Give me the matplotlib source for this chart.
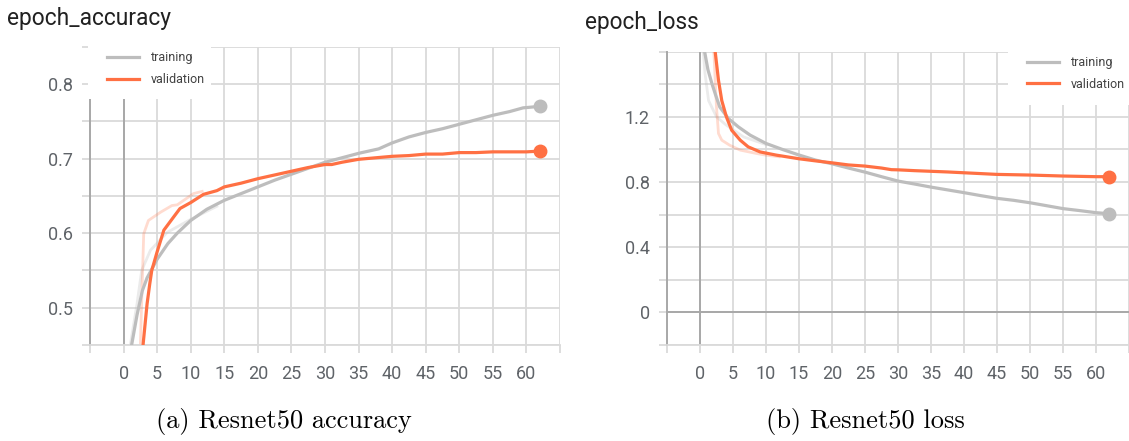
import matplotlib
matplotlib.use("Agg")
import matplotlib.pyplot as plt
from matplotlib.patches import Rectangle
import numpy as np

# ---- data ----
acc_train_x = [1.2, 2.0, 2.8, 3.5, 5, 6.6, 8, 10, 12.4, 15, 17.5, 20, 22.5, 25, 27.5, 30,
               32.5, 35, 38, 40, 42.5, 45, 47.5, 50, 52.5, 55, 57.5, 59.5, 62]
acc_train_y = [0.45, 0.49, 0.523, 0.540, 0.565, 0.586, 0.600, 0.617, 0.632, 0.644, 0.653,
               0.662, 0.671, 0.679, 0.687, 0.695, 0.701, 0.707, 0.713, 0.721, 0.729, 0.735,
               0.740, 0.746, 0.752, 0.758, 0.763, 0.768, 0.770]
acc_val_x = [2.9, 3.5, 3.9, 4.2, 5, 6, 7.4, 8.4, 10, 11.9, 13.9, 15, 17.5, 20, 22.5, 25,
             27.5, 30, 31, 32.5, 35, 37.5, 40, 42.5, 45, 47.5, 50, 52.5, 55, 57.5, 60, 62]
acc_val_y = [0.45, 0.505, 0.532, 0.55, 0.575, 0.604, 0.621, 0.633, 0.641, 0.652, 0.657,
             0.662, 0.667, 0.673, 0.678, 0.683, 0.688, 0.692, 0.692, 0.695, 0.699, 0.701,
             0.703, 0.704, 0.706, 0.706, 0.708, 0.708, 0.709, 0.709, 0.709, 0.710]
acc_train_raw_x = [1.0, 2.0, 2.7, 4.0, 6.5, 9.9, 13.9]
acc_train_raw_y = [0.45, 0.505, 0.55, 0.577, 0.601, 0.618, 0.636]
acc_val_raw_x = [2.5, 3.0, 3.7, 5.5, 7.2, 8.0, 10.4, 11.7]
acc_val_raw_y = [0.45, 0.599, 0.617, 0.628, 0.637, 0.638, 0.653, 0.656]

loss_train_x = [0.7, 1.2, 1.8, 2.4, 3.0, 4.3, 5.8, 7.6, 10, 12.5, 15, 17.5, 20, 22.5, 25,
                27.5, 30, 32.5, 35, 37.5, 40, 42.5, 45, 47.5, 50, 52.5, 55, 57.5, 60, 62]
loss_train_y = [1.60, 1.49, 1.405, 1.33, 1.26, 1.19, 1.139, 1.088, 1.037, 1.000, 0.966,
                0.935, 0.912, 0.886, 0.861, 0.833, 0.806, 0.788, 0.769, 0.752, 0.735,
                0.717, 0.700, 0.688, 0.673, 0.655, 0.637, 0.625, 0.612, 0.606]
loss_val_x = [2.3, 2.8, 3.3, 4.0, 4.8, 6.1, 7.3, 9.1, 11.6, 15, 17.5, 20, 22.5, 25, 27.5,
              29, 30, 32.5, 35, 37.5, 40, 42.5, 45, 47.5, 50, 52.5, 55, 57.5, 60, 62]
loss_val_y = [1.60, 1.425, 1.30, 1.20, 1.118, 1.057, 1.016, 0.985, 0.965, 0.943, 0.930,
              0.918, 0.905, 0.898, 0.886, 0.876, 0.875, 0.870, 0.866, 0.862, 0.857, 0.852,
              0.847, 0.845, 0.843, 0.840, 0.837, 0.835, 0.833, 0.833]
loss_train_raw_x = [0.5, 0.76, 1.3, 2.5, 4.0, 6.6, 10]
loss_train_raw_y = [1.60, 1.466, 1.30, 1.20, 1.149, 1.077, 1.03]
loss_val_raw_x = [2.1, 2.5, 2.8, 3.3, 4.5, 6.1, 8.6, 10, 12]
loss_val_raw_y = [1.60, 1.26, 1.098, 1.057, 1.026, 0.996, 0.975, 0.965, 0.955]

x_ticks = list(range(-5, 70, 5))
x_ticklabels = [""] + [str(v) for v in range(0, 65, 5)] + [""]
acc_yticks = [0.45, 0.5, 0.55, 0.6, 0.65, 0.7, 0.75, 0.8, 0.85]
acc_yticklabels = ["", "0.5", "", "0.6", "", "0.7", "", "0.8", ""]
loss_yticks = [-0.2, 0, 0.2, 0.4, 0.6, 0.8, 1.0, 1.2, 1.4, 1.6]
loss_yticklabels = ["", "0", "", "0.4", "", "0.8", "", "1.2", "", ""]

TRAIN = "#bdbdbd"
VAL = "#ff7043"
GRID = "#dadada"
AXIS = "#a8a8a8"
SANS = ["Roboto", "DejaVu Sans"]

W, H = 1129, 441
fig = plt.figure(figsize=(W / 100, H / 100), dpi=100)
ax1 = fig.add_axes([90 / W, 1 - 345 / H, 470 / W, (345 - 46.7) / H])
ax2 = fig.add_axes([667 / W, 1 - 345 / H, 462 / W, (345 - 51.7) / H])


def style_axes(ax, ylim, yticks, ylabels):
    ax.set_xlim(-5, 65)
    ax.set_ylim(*ylim)
    ax.set_xticks(x_ticks)
    ax.set_xticklabels(x_ticklabels)
    ax.set_yticks(yticks)
    ax.set_yticklabels(ylabels)
    ax.grid(True, color=GRID, linewidth=1.3, zorder=0)
    ax.set_axisbelow(True)
    for side in ["top", "right"]:
        ax.spines[side].set_visible(False)
    ax.spines["bottom"].set_color(GRID)
    ax.spines["bottom"].set_linewidth(1.3)
    ax.spines["left"].set_color(AXIS)
    ax.spines["left"].set_linewidth(1.4)
    ax.tick_params(axis="both", length=6, width=1.3, color=GRID, labelcolor="#5f6368",
                   labelsize=13)
    ax.tick_params(axis="x", pad=8.5)
    ax.tick_params(axis="y", pad=6.5)
    for lbl in ax.get_xticklabels() + ax.get_yticklabels():
        lbl.set_fontfamily(SANS)
    ax.axvline(0, color=AXIS, linewidth=1.4, zorder=1)


def draw_runs(ax, tx, ty, vx, vy, trx, try_, vrx, vry):
    ax.plot(trx, try_, color=TRAIN, alpha=0.3, linewidth=2, zorder=2)
    ax.plot(vrx, vry, color=VAL, alpha=0.25, linewidth=2, zorder=2)
    ax.plot(tx, ty, color=TRAIN, linewidth=2.3, label="training", zorder=3)
    ax.plot(vx, vy, color=VAL, linewidth=2.3, label="validation", zorder=3)
    ax.plot(tx[-1], ty[-1], "o", color=TRAIN, markersize=9, clip_on=False, zorder=4)
    ax.plot(vx[-1], vy[-1], "o", color=VAL, markersize=9, clip_on=False, zorder=4)


def add_legend(ax, box, anchor):
    ax.add_patch(Rectangle((box[0], box[1]), box[2] - box[0], box[3] - box[1],
                           transform=ax.transAxes, facecolor="white", edgecolor="none",
                           clip_on=False, zorder=5))
    leg = ax.legend(loc="upper left", bbox_to_anchor=anchor, frameon=False,
                    borderpad=0, borderaxespad=0, handlelength=2.6, handletextpad=0.9,
                    labelspacing=0.7, prop={"family": SANS, "size": 9})
    leg.set_zorder(6)
    for t in leg.get_texts():
        t.set_color("#424242")


style_axes(ax1, (0.45, 0.85), acc_yticks, acc_yticklabels)
draw_runs(ax1, acc_train_x, acc_train_y, acc_val_x, acc_val_y,
          acc_train_raw_x, acc_train_raw_y, acc_val_raw_x, acc_val_raw_y)
add_legend(ax1, (-0.004, 0.825, 0.257, 1.03), (0.036, 0.985))

style_axes(ax2, (-0.2, 1.6), loss_yticks, loss_yticklabels)
ax2.axhline(0, color=AXIS, linewidth=1.4, zorder=1)
draw_runs(ax2, loss_train_x, loss_train_y, loss_val_x, loss_val_y,
          loss_train_raw_x, loss_train_raw_y, loss_val_raw_x, loss_val_raw_y)
add_legend(ax2, (0.738, 0.818, 1.0, 1.05), (0.779, 0.985))

fig.text(7 / W, 1 - 25 / H, "epoch_accuracy", fontsize=16.4, color="#212121",
         family=SANS, va="baseline")
fig.text(585 / W, 1 - 29 / H, "epoch_loss", fontsize=16.3, color="#212121",
         family=SANS, va="baseline")
fig.text(283.5 / W, 1 - 428 / H, "(a) Resnet50 accuracy", fontsize=19,
         family="cmr10", ha="center", va="baseline")
fig.text(865 / W, 1 - 428 / H, "(b) Resnet50 loss", fontsize=19,
         family="cmr10", ha="center", va="baseline")

fig.savefig("out.png", dpi=100)
